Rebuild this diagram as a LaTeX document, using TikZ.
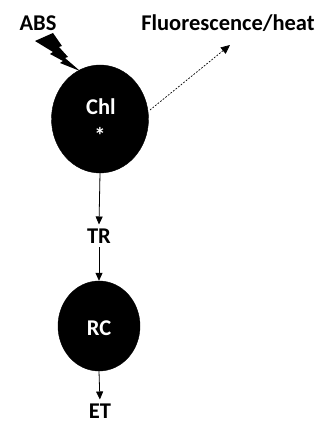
\documentclass[tikz,border=0pt]{standalone}
\usepackage{fontspec}
\setmainfont{Carlito}
\usetikzlibrary{arrows.meta,shapes.geometric}
\begin{document}
\begin{tikzpicture}[x=1pt,y=-1pt,
  lbl/.style={font=\fontsize{22.5}{22.5}\selectfont\bfseries, inner sep=0pt},
  blob/.style={ellipse, fill=black, draw=black, inner sep=0pt},
  flow/.style={-{Triangle[length=8pt,width=7pt]}, line width=0.8pt},
  dots/.style={-{Triangle[length=9pt,width=8pt]}, line width=0.7pt, dash pattern=on 1.8pt off 1.5pt}]
\useasboundingbox (0,0) rectangle (324,427);
\node[blob, minimum width=97pt, minimum height=108pt] (chl) at (100,119) {};
\node[lbl, text=white] (chltxt) at (101,107) {Chl};
\node[lbl, text=white] (star) at (100,135) {*};
\node[blob, minimum width=82pt, minimum height=90pt] (rc) at (99,326) {};
\node[lbl, text=white] (rctxt) at (99,328) {RC};
\node[lbl] (abs) at (38,23) {ABS};
\node[lbl] (fl) at (228,23) {Fluorescence/heat};
\node[lbl, inner sep=4pt] (tr) at (99,236) {TR};
\node[lbl] (et) at (100,411) {ET};
\coordinate (flend) at (230,45);
\coordinate (dstart) at (150,110);
\draw[flow] (chl.south) -- (tr.north);
\draw[flow] (tr.south) -- (rc.north);
\draw[flow, shorten >=4pt] (rc.south) -- (et.north);
\draw[dots] (dstart) -- (flend);
\fill[black] (35,41) -- (53,33) -- (62,46) -- (59,47) -- (68,57) -- (65,58) -- (80,71) -- (60,63) -- (63,61) -- (50,54) -- (53,52) -- cycle;
\end{tikzpicture}
\end{document}
